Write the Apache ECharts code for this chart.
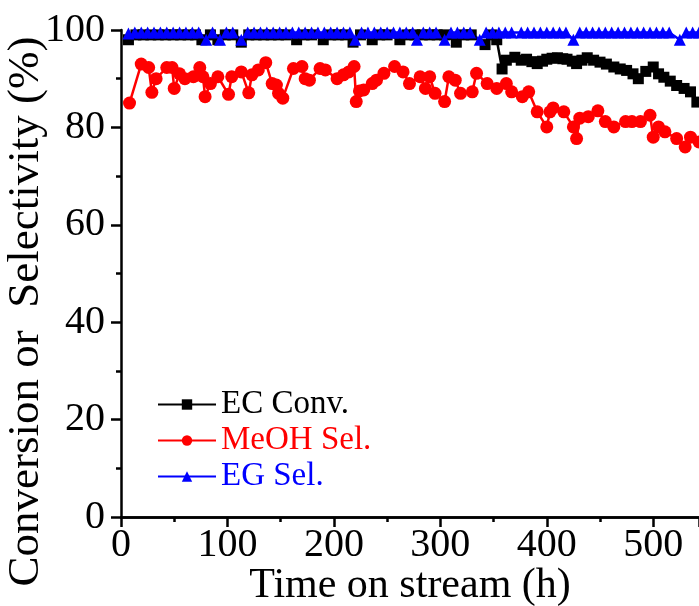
<!DOCTYPE html>
<html>
<head>
<meta charset="utf-8">
<script src="https://cdn.jsdelivr.net/npm/echarts@6/dist/echarts.min.js"></script>
<style>
html,body{margin:0;padding:0;background:#fff;}
#chart{width:699px;height:606px;}
</style>
</head>
<body>
<div id="chart"></div>
<script>
// [time on stream (h), %]
var ecConv = [
  [7,98],[14,99],[21,99],[28,99],[35,99],[42,99],[49,99],[56,99],[63,99],[70,99],
  [76,98],[84,99],[91,98],[98,99],[105,99],[113,97.5],[120,99],[127,99],[134,99],[141,99],
  [148,99],[155,99],[165,98],[172,99],[179,99],[190,98],[197,99],[204,99],[211,99],[218,97.5],
  [225,99],[236,98],[243,99],[250,99],[262,98],[269,99],[276,99],[283,99],[290,99],[297,99],
  [304,99],[315,97.5],[322,99],[329,99],[342,97],[348,99],[353,98],[358,92],[362,93.8],[370,94.4],
  [376,93.8],[381,94],[386,93.5],[391,93.1],[396,93.6],[400,94],[405,94.2],[410,94.3],[415,94.1],[419,94],
  [424,93.6],[428,93.1],[433,93.8],[438,94.3],[444,93.8],[450,93.4],[456,93],[463,92.4],[469,92],[475,91.7],
  [481,91],[486,90],[493,91.5],[500,92.4],[505,91],[510,90.3],[516,89.5],[522,88.6],[529,88],[535,87.3],
  [541,85.2]
];
var meohSel = [
  [8,85],[19,93],[26,92.3],[29,87.2],[33,90],[43,92.3],[48,92.3],[50,88],[55,91],[60,90],
  [68,90.4],[74,92.3],[77,90.4],[79,86.3],[84,89],[91,90.4],[101,86.8],[104,90.4],[113,91.4],[120,87.1],
  [123,90.8],[129,91.8],[136,93.3],[142,89],[146,88.7],[148,87],[152,86],[162,92.1],[170,92.5],[173,90],
  [177,89.7],[187,92.1],[192,91.8],[203,90],[209,90.8],[214,91.4],[219,92.5],[221,85.3],[224,87.5],[228,87.7],
  [236,89],[240,89.7],[247,91.1],[257,92.5],[265,91.4],[271,89],[281,90.4],[286,88],[290,90.4],[295,87],
  [304,85.3],[308,90.4],[314,89.7],[319,87],[330,87.3],[334,91.1],[344,89],[353,88],[362,89],[367,87.3],
  [377,86.3],[383,87.3],[391,83.2],[400,80.1],[403,83.2],[406,84],[416,83.2],[425,80.1],[428,77.7],[431,81.9],
  [439,82.2],[448,83.4],[455,81.2],[463,80.1],[474,81.2],[480,81.2],[488,81.2],[497,82.5],[500,78],[505,80.1],
  [511,79.1],[522,77.7],[530,76],[535,78],[543,77]
];
var egSel = [
  [7,99.3],[13,99.5],[19,99.5],[25,99.5],[31,99.5],[37,99.5],[43,99.5],[49,99.5],[55,99.5],[61,99.5],
  [67,99.5],[73,99.5],[80,98],[86,99.5],[93,98],[99,99.5],[105,99.5],[113,98],[119,99.5],[125,99.5],
  [131,99.5],[137,99.5],[143,99.5],[149,99.5],[155,99.5],[161,99.5],[167,99.5],[173,99.5],[179,99.5],[185,99.5],
  [191,99.5],[197,99.5],[203,99.5],[209,99.5],[215,99.5],[220,98],[226,99.5],[232,99.5],[238,99.5],[244,99.5],
  [250,99.5],[256,99.5],[262,99.5],[268,99.5],[274,99.5],[278,98],[284,99.5],[290,99.5],[296,99.5],[304,98],
  [310,99.5],[316,99.5],[322,99.5],[328,99.5],[337,98],[343,99.5],[349,99.5],[355,99.5],[361,99.5],[367,99.5],
  [376,99.5],[382,99.5],[388,99.5],[394,99.5],[400,99.5],[406,99.5],[412,99.5],[418,99.5],[425,98],[431,99.5],
  [437,99.5],[443,99.5],[449,99.5],[455,99.5],[461,99.5],[467,99.5],[473,99.5],[479,99.5],[485,99.5],[491,99.5],
  [497,99.5],[503,99.5],[509,99.5],[515,99.5],[525,98],[531,99.5],[537,99.5],[543,99.5]
];
var seriesNames = ['EC Conv.', 'MeOH Sel.', 'EG Sel.'];
var seriesColors = ['#000000', '#ff0000', '#0000ff'];
var xTickLabels = ['0', '100', '200', '300', '400', '500'];

var font = 'Liberation Serif';

var axisCommon = {
    axisLine: {show: true, onZero: false, lineStyle: {color: '#000', width: 2.5}},
    axisTick: {show: true, inside: false, length: 10, lineStyle: {color: '#000', width: 2.5}},
    minorTick: {show: true, splitNumber: 2, length: 5, lineStyle: {color: '#000', width: 2.5}},
    splitLine: {show: false}
};

var option = {
    animation: false,
    backgroundColor: '#fff',
    grid: {left: 121, right: 0, top: 30, bottom: 89, containLabel: false, outerBoundsMode: 'none'},
    legend: {
        orient: 'vertical',
        left: 152,
        top: 383,
        itemWidth: 58,
        itemHeight: 13,
        itemGap: 3,
        textStyle: {fontFamily: font, fontSize: 33},
        data: seriesNames.map(function (n, i) {
            return {name: n, textStyle: {color: seriesColors[i]}};
        })
    }
};

option.xAxis = [
    Object.assign({}, axisCommon, {
        type: 'value', position: 'bottom', min: 0, max: 543, interval: 100,
        name: 'Time on stream (h)', nameLocation: 'middle', nameGap: 48, nameMoveOverlap: false,
        nameTextStyle: {color: '#000', fontFamily: font, fontSize: 42},
        axisLabel: {color: '#000', fontFamily: font, fontSize: 40, margin: 8, showMaxLabel: false,
            formatter: function (v) { return xTickLabels.indexOf(String(v)) >= 0 ? String(v) : ''; }}
    }),
    {
        type: 'value', position: 'top', min: 0, max: 543,
        axisLine: {show: true, lineStyle: {color: '#000', width: 2.5}},
        axisTick: {show: false}, axisLabel: {show: false}, splitLine: {show: false}
    }
];
option.yAxis = [
    Object.assign({}, axisCommon, {
        type: 'value', min: 0, max: 100, interval: 20,
        name: 'Conversion or  Selectivity (%)', nameLocation: 'middle', nameGap: 72, nameMoveOverlap: false,
        nameTextStyle: {color: '#000', fontFamily: font, fontSize: 45, padding: [0, 76, 0, 0]},
        axisLabel: {color: '#000', fontFamily: font, fontSize: 40, margin: 16}
    })
];
option.series = [
    {name: seriesNames[0], type: 'line', data: ecConv, symbol: 'rect', symbolSize: 11,
        color: seriesColors[0], lineStyle: {width: 2.5}},
    {name: seriesNames[1], type: 'line', data: meohSel, symbol: 'circle', symbolSize: 13,
        color: seriesColors[1], lineStyle: {width: 2.5}},
    {name: seriesNames[2], type: 'line', data: egSel, symbol: 'triangle', symbolSize: 12,
        color: seriesColors[2], lineStyle: {width: 2.5}}
];

var chart = echarts.init(document.getElementById('chart'));
chart.setOption(option);
</script>
</body>
</html>
